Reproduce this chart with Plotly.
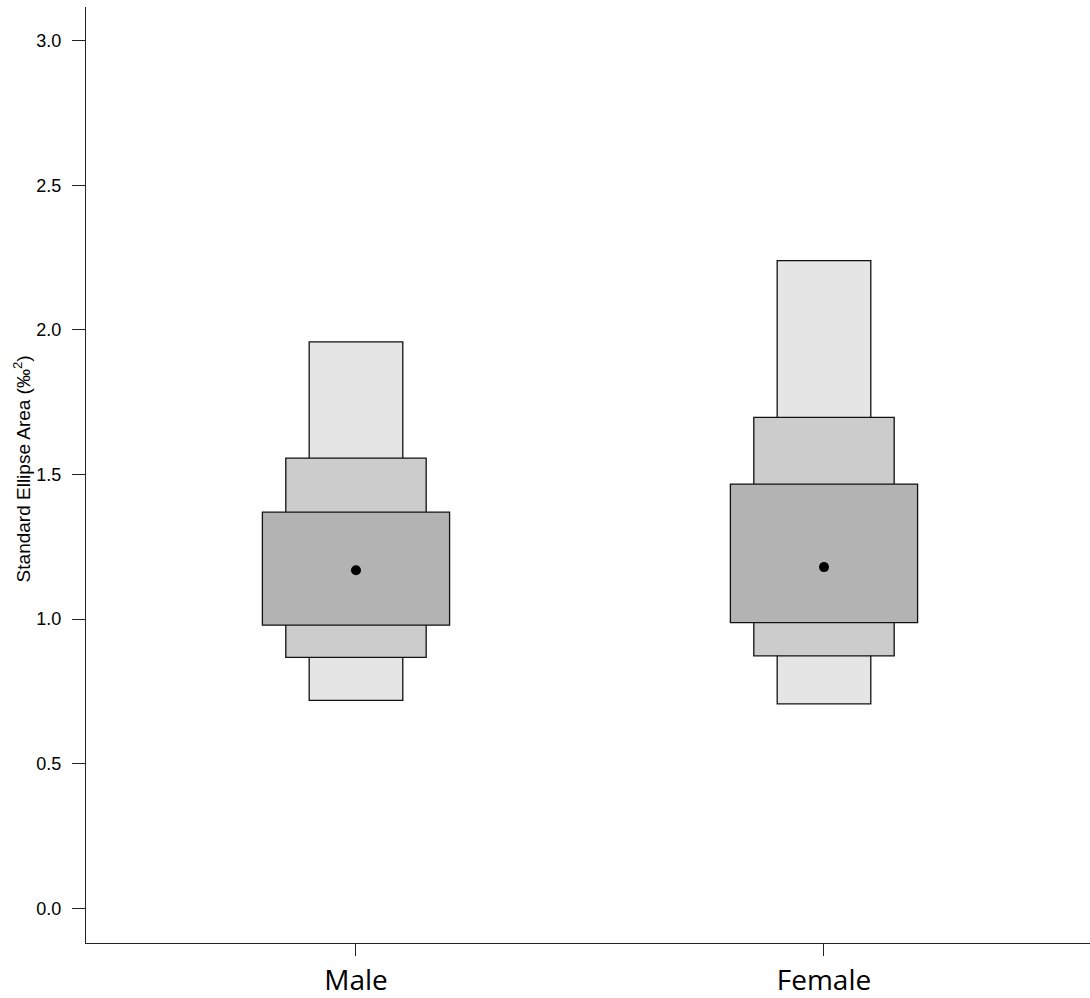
import plotly.graph_objects as go

categories = ["Male", "Female"]
xpos = [1, 2]
mode_vals = [1.169, 1.180]
ci95_low = [0.719, 0.707]
ci95_high = [1.959, 2.240]
ci75_low = [0.868, 0.873]
ci75_high = [1.557, 1.698]
ci50_low = [0.979, 0.988]
ci50_high = [1.370, 1.467]
y_ticks = [0.0, 0.5, 1.0, 1.5, 2.0, 2.5, 3.0]

fig = go.Figure()

levels = [
    (ci95_low, ci95_high, 0.2, "#e5e5e5"),
    (ci75_low, ci75_high, 0.3, "#cccccc"),
    (ci50_low, ci50_high, 0.4, "#b3b3b3"),
]
for lo, hi, w, col in levels:
    fig.add_trace(go.Bar(
        x=xpos, base=lo, y=[h - l for h, l in zip(hi, lo)],
        width=w, marker=dict(color=col, line=dict(color="#111111", width=1.3)),
        showlegend=False, hoverinfo="skip"))

fig.add_trace(go.Scatter(
    x=xpos, y=mode_vals, mode="markers",
    marker=dict(color="black", size=10), showlegend=False))

fig.update_layout(
    barmode="overlay",
    width=1090, height=998,
    margin=dict(l=86, r=0, t=7, b=51),
    paper_bgcolor="white", plot_bgcolor="white",
    xaxis=dict(range=[0.4231, 2.5684], tickvals=xpos, ticktext=categories,
               showline=True, linecolor="#222222", linewidth=1.2,
               ticks="outside", ticklen=12, tickwidth=1.2, tickcolor="#222222",
               showgrid=False, zeroline=False,
               tickfont=dict(family="Open Sans", size=28, color="black")),
    yaxis=dict(range=[-0.12, 3.117], tickvals=y_ticks,
               ticktext=[f"{v:.1f}" for v in y_ticks],
               showline=True, linecolor="#222222", linewidth=1.2,
               ticks="outside", ticklen=13, tickwidth=1.2, tickcolor="#222222",
               ticklabelstandoff=7,
               showgrid=False, zeroline=False,
               tickfont=dict(family="Liberation Sans", size=18, color="black")),
    annotations=[dict(
        text="Standard Ellipse Area (‰<sup>2</sup>)",
        xref="paper", yref="paper", x=-64/1004, y=0.506,
        xanchor="center", yanchor="middle", textangle=-90, showarrow=False,
        font=dict(family="Liberation Sans", size=19, color="black"))],
)

fig.write_html("out.html", config={"displayModeBar": False},
               post_script="document.body.style.margin='0';")
